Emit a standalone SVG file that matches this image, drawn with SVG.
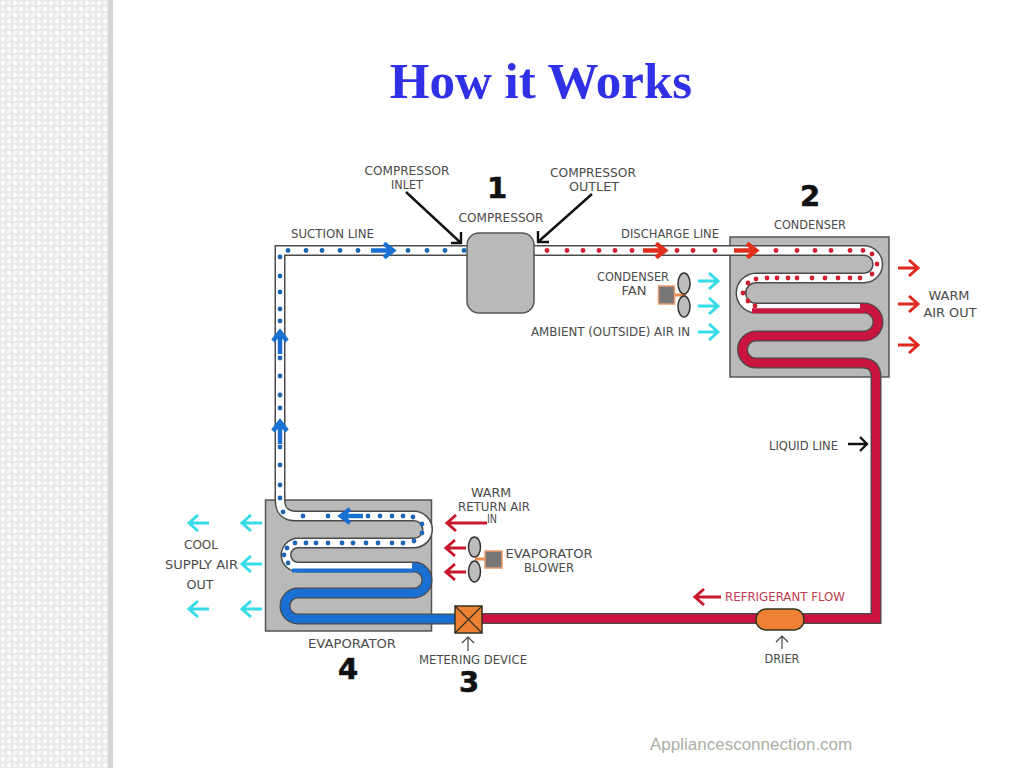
<svg xmlns="http://www.w3.org/2000/svg" width="1024" height="768" viewBox="0 0 1024 768">
<style>
text{font-family:"DejaVu Sans","Liberation Sans",sans-serif;font-size:12px;fill:#4a4a4a;text-anchor:middle}
.t{font-family:"Liberation Serif",serif;font-size:51px;font-weight:bold;fill:#3030e6}
.n{font-size:29px;font-weight:bold;fill:#111;stroke:#111;stroke-width:.6}
.f{font-family:"Liberation Sans",sans-serif;font-size:17px;fill:#a9b0a4;text-anchor:start}
.rf{fill:#c23a52}
.box{fill:#b9b9b9;stroke:#555;stroke-width:1.5}
.o{fill:none;stroke:#4a4a4a;stroke-width:11}
.w{fill:none;stroke:#fff;stroke-width:8}
.r{fill:none;stroke:#c9143f;stroke-width:8.500}
.b{fill:none;stroke:#1a6fd2;stroke-width:8.500}
.ar{fill:none;stroke-width:3}
.cy{stroke:#35dbe6}.rd{stroke:#e0281e}.dr{stroke:#c9182c}
.bk{fill:none;stroke:#111;stroke-width:2.400}
.th{fill:none;stroke:#444;stroke-width:1.200}
.fl{fill:none;stroke-width:4.500}
.dots1{fill:#1c66b4}.dots2{fill:#cf1f2f}
.blade{fill:#bdbdbd;stroke:#333;stroke-width:1.500}
.motor{fill:#777;stroke:#ec9a68;stroke-width:1.500}
.or{fill:#ee8133;stroke:#332;stroke-width:1.500}
</style>
<defs>
<pattern id="pt" width="12" height="12" patternUnits="userSpaceOnUse">
<rect width="12" height="12" fill="#e9e9e9"/>
<rect x="1" y="1" width="4" height="4" rx="1.500" fill="#fff"/>
<rect x="7" y="7" width="4" height="4" rx="1.500" fill="#fff"/>
<rect x="7" y="1" width="4" height="4" rx="1.500" fill="#f5f5f5"/>
<rect x="1" y="7" width="4" height="4" rx="1.500" fill="#f5f5f5"/>
</pattern>
<path id="a" d="M-21 0H-1M-10-8L-1 0L-10 8"/>
<path id="fa" d="M-24 0H-3M-11-7L-2 0L-11 7"/>
<circle id="d" r="2.400"/>
</defs>
<rect width="1024" height="768" fill="#fff"/>
<rect width="108" height="768" fill="url(#pt)"/>
<rect x="108" width="5" height="768" fill="#d6d6d2"/>
<text class="t" x="541" y="98">How it Works</text>
<g id="condenser"><rect class="box" x="730" y="237" width="159" height="140"/></g>
<g id="evaporator"><rect class="box" x="265.500" y="500" width="166" height="131"/></g>
<g id="connectors">
<path class="o" d="M467 250.500H280V500Q280 516 296 516H414A13.500 13.500 0 0 1 414 543H298A12 12 0 0 0 298 567H414A13 13 0 0 1 414 593H298A13 13 0 0 0 298 619H455"/>
<path class="w" d="M467 250.500H280V500Q280 516 296 516H414A13.500 13.500 0 0 1 414 543H298A12 12 0 0 0 298 567H414"/>
<path class="b" d="M412 567H414A13 13 0 0 1 414 593H298A13 13 0 0 0 298 619H455"/>
<path d="M292 570.500H414" stroke="#1a6fd2" stroke-width="4" fill="none"/>
<path class="o" d="M534 250.500H864A13.750 13.750 0 0 1 864 278H756A15 15 0 0 0 756 308H864A14 14 0 0 1 864 336H756A13.500 13.500 0 0 0 756 363H862Q876 363 876 377V618.500H482"/>
<path class="w" d="M534 250.500H864A13.750 13.750 0 0 1 864 278H756A15 15 0 0 0 756 308H864"/>
<path class="r" d="M860 308H864A14 14 0 0 1 864 336H756A13.500 13.500 0 0 0 756 363H862Q876 363 876 377V618.500H482"/>
<path d="M752 310.800H864" stroke="#c9143f" stroke-width="5" fill="none"/>
<g class="dots1">
<use href="#d" x="288" y="250.500"/><use href="#d" x="306" y="250.500"/><use href="#d" x="322" y="250.500"/><use href="#d" x="340" y="250.500"/><use href="#d" x="358" y="250.500"/><use href="#d" x="408" y="250.500"/><use href="#d" x="427" y="250.500"/><use href="#d" x="445" y="250.500"/><use href="#d" x="464" y="250.500"/>
<use href="#d" x="280" y="257"/><use href="#d" x="280" y="276"/><use href="#d" x="280" y="292"/><use href="#d" x="280" y="309"/><use href="#d" x="280" y="321"/><use href="#d" x="280" y="358"/><use href="#d" x="280" y="376"/><use href="#d" x="280" y="395"/><use href="#d" x="280" y="408"/><use href="#d" x="280" y="447"/><use href="#d" x="280" y="465"/><use href="#d" x="280" y="485"/><use href="#d" x="280" y="498"/><use href="#d" x="283" y="512"/>
<use href="#d" x="303" y="516"/><use href="#d" x="328" y="516"/><use href="#d" x="368" y="516"/><use href="#d" x="380" y="516"/><use href="#d" x="392" y="516"/><use href="#d" x="403" y="516"/><use href="#d" x="413" y="517"/><use href="#d" x="422" y="524"/><use href="#d" x="422" y="533"/><use href="#d" x="414" y="541"/>
<use href="#d" x="403" y="543"/><use href="#d" x="392" y="543"/><use href="#d" x="378" y="543"/><use href="#d" x="366" y="543"/><use href="#d" x="353" y="543"/><use href="#d" x="342" y="543"/><use href="#d" x="328" y="543"/><use href="#d" x="316" y="543"/><use href="#d" x="306" y="543"/><use href="#d" x="295" y="543"/><use href="#d" x="287" y="548"/><use href="#d" x="284" y="555"/><use href="#d" x="288" y="563"/>
</g>
<g class="dots2">
<use href="#d" x="547" y="250.500"/><use href="#d" x="567" y="250.500"/><use href="#d" x="583" y="250.500"/><use href="#d" x="599" y="250.500"/><use href="#d" x="615" y="250.500"/><use href="#d" x="632" y="250.500"/><use href="#d" x="677" y="250.500"/><use href="#d" x="693" y="250.500"/><use href="#d" x="715" y="250.500"/><use href="#d" x="776" y="250.500"/><use href="#d" x="797" y="250.500"/><use href="#d" x="815" y="250.500"/><use href="#d" x="831" y="250.500"/><use href="#d" x="850" y="250.500"/><use href="#d" x="863" y="250.500"/>
<use href="#d" x="872" y="254"/><use href="#d" x="877" y="264"/><use href="#d" x="872" y="274"/>
<use href="#d" x="860" y="278"/><use href="#d" x="850" y="278"/><use href="#d" x="838" y="278"/><use href="#d" x="825" y="278"/><use href="#d" x="812" y="278"/><use href="#d" x="797" y="278"/><use href="#d" x="788" y="278"/><use href="#d" x="777" y="278"/><use href="#d" x="767" y="278"/><use href="#d" x="756" y="279"/><use href="#d" x="748" y="283"/><use href="#d" x="743" y="293"/><use href="#d" x="748" y="301"/><use href="#d" x="755" y="306"/>
</g>
<g class="ar cy">
<use href="#a" x="719" y="281"/><use href="#a" x="719" y="306"/><use href="#a" x="719" y="332"/>
</g>
<g class="ar rd">
<use href="#a" x="919" y="268"/><use href="#a" x="919" y="304"/><use href="#a" x="919" y="345"/>
</g>
<g class="ar cy">
<use href="#a" transform="translate(188 523) rotate(180)"/><use href="#a" transform="translate(241 523) rotate(180)"/><use href="#a" transform="translate(241 564) rotate(180)"/><use href="#a" transform="translate(188 609) rotate(180)"/><use href="#a" transform="translate(241 609) rotate(180)"/>
</g>
<g class="ar dr">
<path d="M487 523H447M456 515L447 523L456 531"/>
<use href="#a" transform="translate(445 548) rotate(180)"/><use href="#a" transform="translate(445 572) rotate(180)"/>
<path d="M721 597H695M704 589L695 597L704 605"/>
</g>
<g class="fl" stroke="#e0301c">
<use href="#fa" x="667" y="250.500"/><use href="#fa" x="758" y="250.500"/>
</g>
<g class="fl" stroke="#1a6fd2">
<use href="#fa" x="395" y="250.500"/>
<use href="#fa" transform="translate(280 330) rotate(-90)"/><use href="#fa" transform="translate(280 420) rotate(-90)"/>
<use href="#fa" transform="translate(339 516) rotate(180)"/>
</g>
<path class="bk" d="M406 192L461 243M451 243H461V232"/>
<path class="bk" d="M592 194L538 242M549 242H538V231"/>
<path class="bk" d="M848 444H867M860 437L867 444L860 451"/>
<path class="th" d="M782 649V636M776 642L782 636L788 642"/>
<path class="th" d="M468 651V637M462 643L468 637L474 643"/>
</g>
<g id="compressor"><rect class="box" x="467" y="233" width="67" height="80" rx="12"/></g>
<g id="condenser-fan">
<path d="M675 295H686" stroke="#ec8a50" stroke-width="3"/>
<rect class="motor" x="658.500" y="286" width="16" height="18"/>
<ellipse class="blade" cx="684" cy="283.500" rx="6" ry="10.500"/>
<ellipse class="blade" cx="684" cy="306.500" rx="6" ry="10.500"/>
</g>
<g id="evaporator-blower">
<path d="M475 559H486" stroke="#ec8a50" stroke-width="3"/>
<rect class="motor" x="485" y="551" width="17" height="17"/>
<ellipse class="blade" cx="474.500" cy="547" rx="6" ry="10"/>
<ellipse class="blade" cx="474.500" cy="571.500" rx="6" ry="10.500"/>
</g>
<g id="metering-device">
<rect class="or" x="455" y="606" width="27" height="27"/>
<path d="M455 606L482 633M482 606L455 633" stroke="#332" stroke-width="1.200"/>
</g>
<g id="drier"><rect class="or" x="756" y="609" width="48" height="21" rx="10"/></g>
<g id="labels">
<text x="407" y="175" textLength="85" lengthAdjust="spacingAndGlyphs">COMPRESSOR</text>
<text x="407" y="189" textLength="32" lengthAdjust="spacingAndGlyphs">INLET</text>
<text class="n" x="497" y="198">1</text>
<text x="501" y="222" textLength="85" lengthAdjust="spacingAndGlyphs">COMPRESSOR</text>
<text x="593" y="177" textLength="86" lengthAdjust="spacingAndGlyphs">COMPRESSOR</text>
<text x="594" y="191" textLength="50" lengthAdjust="spacingAndGlyphs">OUTLET</text>
<text x="332.500" y="238" textLength="83" lengthAdjust="spacingAndGlyphs">SUCTION LINE</text>
<text x="670" y="238" textLength="98" lengthAdjust="spacingAndGlyphs">DISCHARGE LINE</text>
<text class="n" x="810" y="206">2</text>
<text x="810" y="229" textLength="72" lengthAdjust="spacingAndGlyphs">CONDENSER</text>
<text x="633" y="281" textLength="72" lengthAdjust="spacingAndGlyphs">CONDENSER</text>
<text x="634" y="295" textLength="25" lengthAdjust="spacingAndGlyphs">FAN</text>
<text x="610.500" y="336" textLength="159" lengthAdjust="spacingAndGlyphs">AMBIENT (OUTSIDE) AIR IN</text>
<text x="949" y="300" textLength="41" lengthAdjust="spacingAndGlyphs">WARM</text>
<text x="950" y="317" textLength="53" lengthAdjust="spacingAndGlyphs">AIR OUT</text>
<text x="803.500" y="450" textLength="69" lengthAdjust="spacingAndGlyphs">LIQUID LINE</text>
<text class="rf" x="785" y="601" textLength="120" lengthAdjust="spacingAndGlyphs">REFRIGERANT FLOW</text>
<text x="782" y="663" textLength="35" lengthAdjust="spacingAndGlyphs">DRIER</text>
<text x="491" y="497" textLength="40" lengthAdjust="spacingAndGlyphs">WARM</text>
<text x="494" y="511" textLength="72" lengthAdjust="spacingAndGlyphs">RETURN AIR</text>
<text x="492" y="523" textLength="10" lengthAdjust="spacingAndGlyphs">IN</text>
<text x="549" y="558" textLength="87" lengthAdjust="spacingAndGlyphs">EVAPORATOR</text>
<text x="549" y="572" textLength="50" lengthAdjust="spacingAndGlyphs">BLOWER</text>
<text x="201" y="549" textLength="34" lengthAdjust="spacingAndGlyphs">COOL</text>
<text x="201.500" y="569" textLength="73" lengthAdjust="spacingAndGlyphs">SUPPLY AIR</text>
<text x="200" y="589" textLength="27" lengthAdjust="spacingAndGlyphs">OUT</text>
<text x="352" y="648" textLength="88" lengthAdjust="spacingAndGlyphs">EVAPORATOR</text>
<text class="n" x="348" y="679">4</text>
<text x="473" y="664" textLength="108" lengthAdjust="spacingAndGlyphs">METERING DEVICE</text>
<text class="n" x="469" y="692">3</text>
</g>
<text class="f" x="650" y="750">Appliancesconnection.com</text>
</svg>
